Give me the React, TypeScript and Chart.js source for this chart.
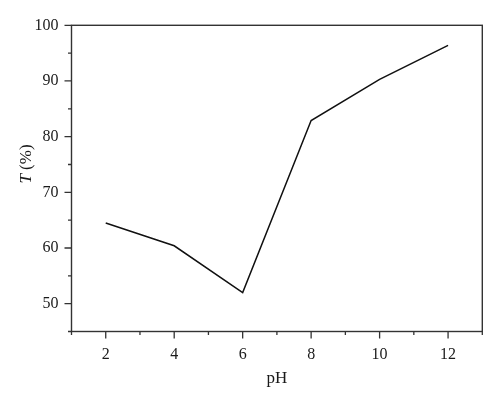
import React, { useEffect, useRef } from "react";
import { Chart, registerables } from "chart.js";

Chart.register(...registerables);

const phValues = [2, 4, 6, 8, 10, 12];
const transmittance = [64.5, 60.4, 52.0, 82.9, 90.3, 96.4];
const xTickValues = [1, 2, 3, 4, 5, 6, 7, 8, 9, 10, 11, 12, 13];
const yTickValues = [45, 50, 55, 60, 65, 70, 75, 80, 85, 90, 95, 100];
const xTitle = "pH";
const yTitleItalic = "T";
const yTitleRest = " (%)";

const FONT = "'Liberation Serif', 'DejaVu Serif', serif";
const AXIS_COLOR = "#333333";
const TEXT_COLOR = "#1a1a1a";

const framePlugin = {
  id: "frameAndTicks",
  afterDraw(chart: any) {
    const { ctx, chartArea, scales } = chart;
    const xs = scales.x;
    const ys = scales.y;
    ctx.save();
    ctx.strokeStyle = AXIS_COLOR;
    ctx.lineWidth = 1.4;
    ctx.strokeRect(chartArea.left, chartArea.top, chartArea.right - chartArea.left, chartArea.bottom - chartArea.top);
    ctx.lineWidth = 1.3;
    ctx.beginPath();
    xTickValues.forEach((v) => {
      const px = xs.getPixelForValue(v);
      const len = v % 2 === 0 ? 7 : 3.5;
      ctx.moveTo(px, chartArea.bottom);
      ctx.lineTo(px, chartArea.bottom + len);
    });
    yTickValues.forEach((v) => {
      const py = ys.getPixelForValue(v);
      const len = v % 10 === 0 ? 7 : 3.5;
      ctx.moveTo(chartArea.left, py);
      ctx.lineTo(chartArea.left - len, py);
    });
    ctx.stroke();

    // axis titles
    ctx.fillStyle = TEXT_COLOR;
    ctx.textBaseline = "middle";
    ctx.font = `17px ${FONT}`;
    ctx.textAlign = "center";
    const cx = (chartArea.left + chartArea.right) / 2;
    ctx.fillText(xTitle, cx, 379);

    ctx.save();
    ctx.translate(27, 164);
    ctx.rotate(-Math.PI / 2);
    ctx.textAlign = "left";
    ctx.font = `italic 17px ${FONT}`;
    const w1 = ctx.measureText(yTitleItalic).width;
    ctx.font = `17px ${FONT}`;
    const w2 = ctx.measureText(yTitleRest).width;
    const start = -(w1 + w2) / 2;
    ctx.font = `italic 17px ${FONT}`;
    ctx.fillText(yTitleItalic, start, 0);
    ctx.font = `17px ${FONT}`;
    ctx.fillText(yTitleRest, start + w1, 0);
    ctx.restore();

    ctx.restore();
  },
};

export default function App() {
  const canvasRef = useRef<HTMLCanvasElement | null>(null);

  useEffect(() => {
    if (!canvasRef.current) return;
    const chart = new Chart(canvasRef.current, {
      type: "line",
      data: {
        datasets: [
          {
            data: phValues.map((x, i) => ({ x, y: transmittance[i] })),
            borderColor: "#111111",
            borderWidth: 1.5,
            pointRadius: 0,
            fill: false,
            tension: 0,
          },
        ],
      },
      options: {
        animation: false,
        responsive: false,
        layout: { padding: { left: 0, right: 17.7, top: 25.3, bottom: 0 } },
        plugins: { legend: { display: false }, tooltip: { enabled: false } },
        scales: {
          x: {
            type: "linear",
            min: 1,
            max: 13,
            afterFit: (scale: any) => {
              scale.height = 73.5;
            },
            grid: { display: false, drawTicks: false },
            border: { display: false },
            ticks: {
              stepSize: 1,
              autoSkip: false,
              maxRotation: 0,
              padding: 13.5,
              color: TEXT_COLOR,
              font: { family: FONT, size: 16 },
              callback: (v: any) => (Number(v) % 2 === 0 ? String(v) : ""),
            },
          },
          y: {
            type: "linear",
            min: 45,
            max: 100,
            afterFit: (scale: any) => {
              scale.width = 71.5;
            },
            grid: { display: false, drawTicks: false },
            border: { display: false },
            ticks: {
              stepSize: 5,
              autoSkip: false,
              padding: 13,
              color: TEXT_COLOR,
              font: { family: FONT, size: 16 },
              callback: (v: any) => (Number(v) % 10 === 0 ? String(v) : ""),
            },
          },
        },
      },
      plugins: [framePlugin],
    });
    return () => chart.destroy();
  }, []);

  return (
    <div style={{ position: "absolute", left: 0, top: 0, width: 500, height: 405, background: "#fff" }}>
      <canvas ref={canvasRef} width={500} height={405} style={{ width: 500, height: 405, display: "block" }} />
    </div>
  );
}
